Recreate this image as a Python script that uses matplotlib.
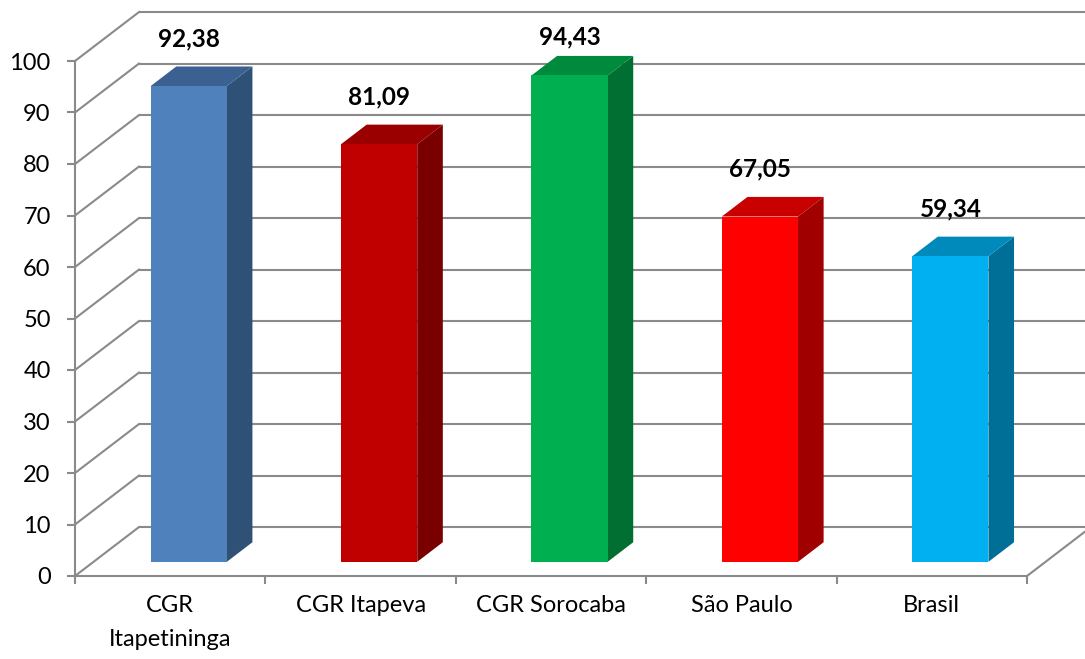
import matplotlib
matplotlib.use("Agg")
import matplotlib.pyplot as plt

categories = ["CGR\nItapetininga", "CGR Itapeva", "CGR Sorocaba", "São Paulo", "Brasil"]
values = [92.38, 81.09, 94.43, 67.05, 59.34]
value_labels = ["92,38", "81,09", "94,43", "67,05", "59,34"]
yticks = list(range(0, 101, 10))

front_colors = ["#4F81BD", "#C00000", "#00B050", "#FF0000", "#00B0F0"]
top_colors = ["#3B6192", "#9A0000", "#008A3E", "#C80000", "#0089BB"]
side_colors = ["#2F5175", "#7A0000", "#006F31", "#A00000", "#006F98"]

plt.rcParams["font.family"] = ["Lato", "DejaVu Sans"]

W, H, DPI = 1085, 659, 100
fig = plt.figure(figsize=(W / DPI, H / DPI), dpi=DPI)
ax = fig.add_axes([75 / W, 83 / H, 952 / W, 515 / H])
n = len(categories)
ax.set_xlim(0, n)
ax.set_ylim(0, 100)

# oblique depth (full depth of floor) in data units
DX, DY = 0.336, 9.5
T0, T1 = 0.29, 0.69
BW = 0.40
GRID = "#8A8A8A"
LW = 1.5


def proj(x, v, t):
    return x + t * DX, v + t * DY


# back wall + side wall gridlines
for v in yticks:
    x0, y0 = proj(0, v, 1)
    x1, y1 = proj(n, v, 1)
    ax.plot([x0, x1], [y0, y1], color=GRID, lw=LW, clip_on=False, zorder=1,
            solid_capstyle="butt")
    xa, ya = proj(0, v, 0)
    ax.plot([xa, x0], [ya, y0], color=GRID, lw=LW, clip_on=False, zorder=1)

# right floor edge
xa, ya = proj(n, 0, 0)
xb, yb = proj(n, 0, 1)
ax.plot([xa, xb], [ya, yb], color=GRID, lw=LW, clip_on=False, zorder=1)

# bars
for i, v in enumerate(values):
    xc = i + 0.5
    xl, xr = xc - BW / 2, xc + BW / 2
    # side face
    pts = [proj(xr, 0, T0), proj(xr, v, T0), proj(xr, v, T1), proj(xr, 0, T1)]
    ax.fill([p[0] for p in pts], [p[1] for p in pts], color=side_colors[i],
            lw=0, clip_on=False, zorder=3)
    # top face
    pts = [proj(xl, v, T0), proj(xr, v, T0), proj(xr, v, T1), proj(xl, v, T1)]
    ax.fill([p[0] for p in pts], [p[1] for p in pts], color=top_colors[i],
            lw=0, clip_on=False, zorder=3)
    # front face
    fx, fy = proj(xc, 0, T0)
    ax.bar(fx, v, bottom=fy, width=BW, color=front_colors[i], lw=0,
           clip_on=False, zorder=4)
    # value label (kept inside the chart area at the top)
    lx, ly = proj(xc, v, T1)
    ly = min(ly, 99.3)
    ax.annotate(value_labels[i], (fx, ly), xytext=(0, 20), textcoords="offset points",
                ha="center", va="center", fontsize=17.5, fontweight="bold",
                color="black", zorder=6, annotation_clip=False)

# axes spines / ticks
for s in ["top", "right"]:
    ax.spines[s].set_visible(False)
for s in ["left", "bottom"]:
    ax.spines[s].set_color(GRID)
    ax.spines[s].set_linewidth(LW)
    ax.spines[s].set_zorder(2)
ax.set_facecolor("none")
ax.set_yticks(yticks)
ax.set_yticklabels([str(t) for t in yticks])
ax.tick_params(axis="y", direction="out", length=5.5, width=LW, color=GRID,
               labelsize=17, pad=12, labelcolor="black")
ax.set_xticks(range(n + 1))
ax.set_xticklabels([""] * (n + 1))
ax.tick_params(axis="x", which="major", direction="out", length=5.5, width=LW,
               color=GRID)
ax.set_xticks([i + 0.5 for i in range(n)], minor=True)
ax.set_xticklabels(categories, minor=True)
ax.tick_params(axis="x", which="minor", length=0, labelsize=17, pad=14,
               labelcolor="black")
for lab in ax.get_xticklabels(minor=True):
    lab.set_linespacing(1.75)

fig.savefig("out.png", dpi=DPI)
